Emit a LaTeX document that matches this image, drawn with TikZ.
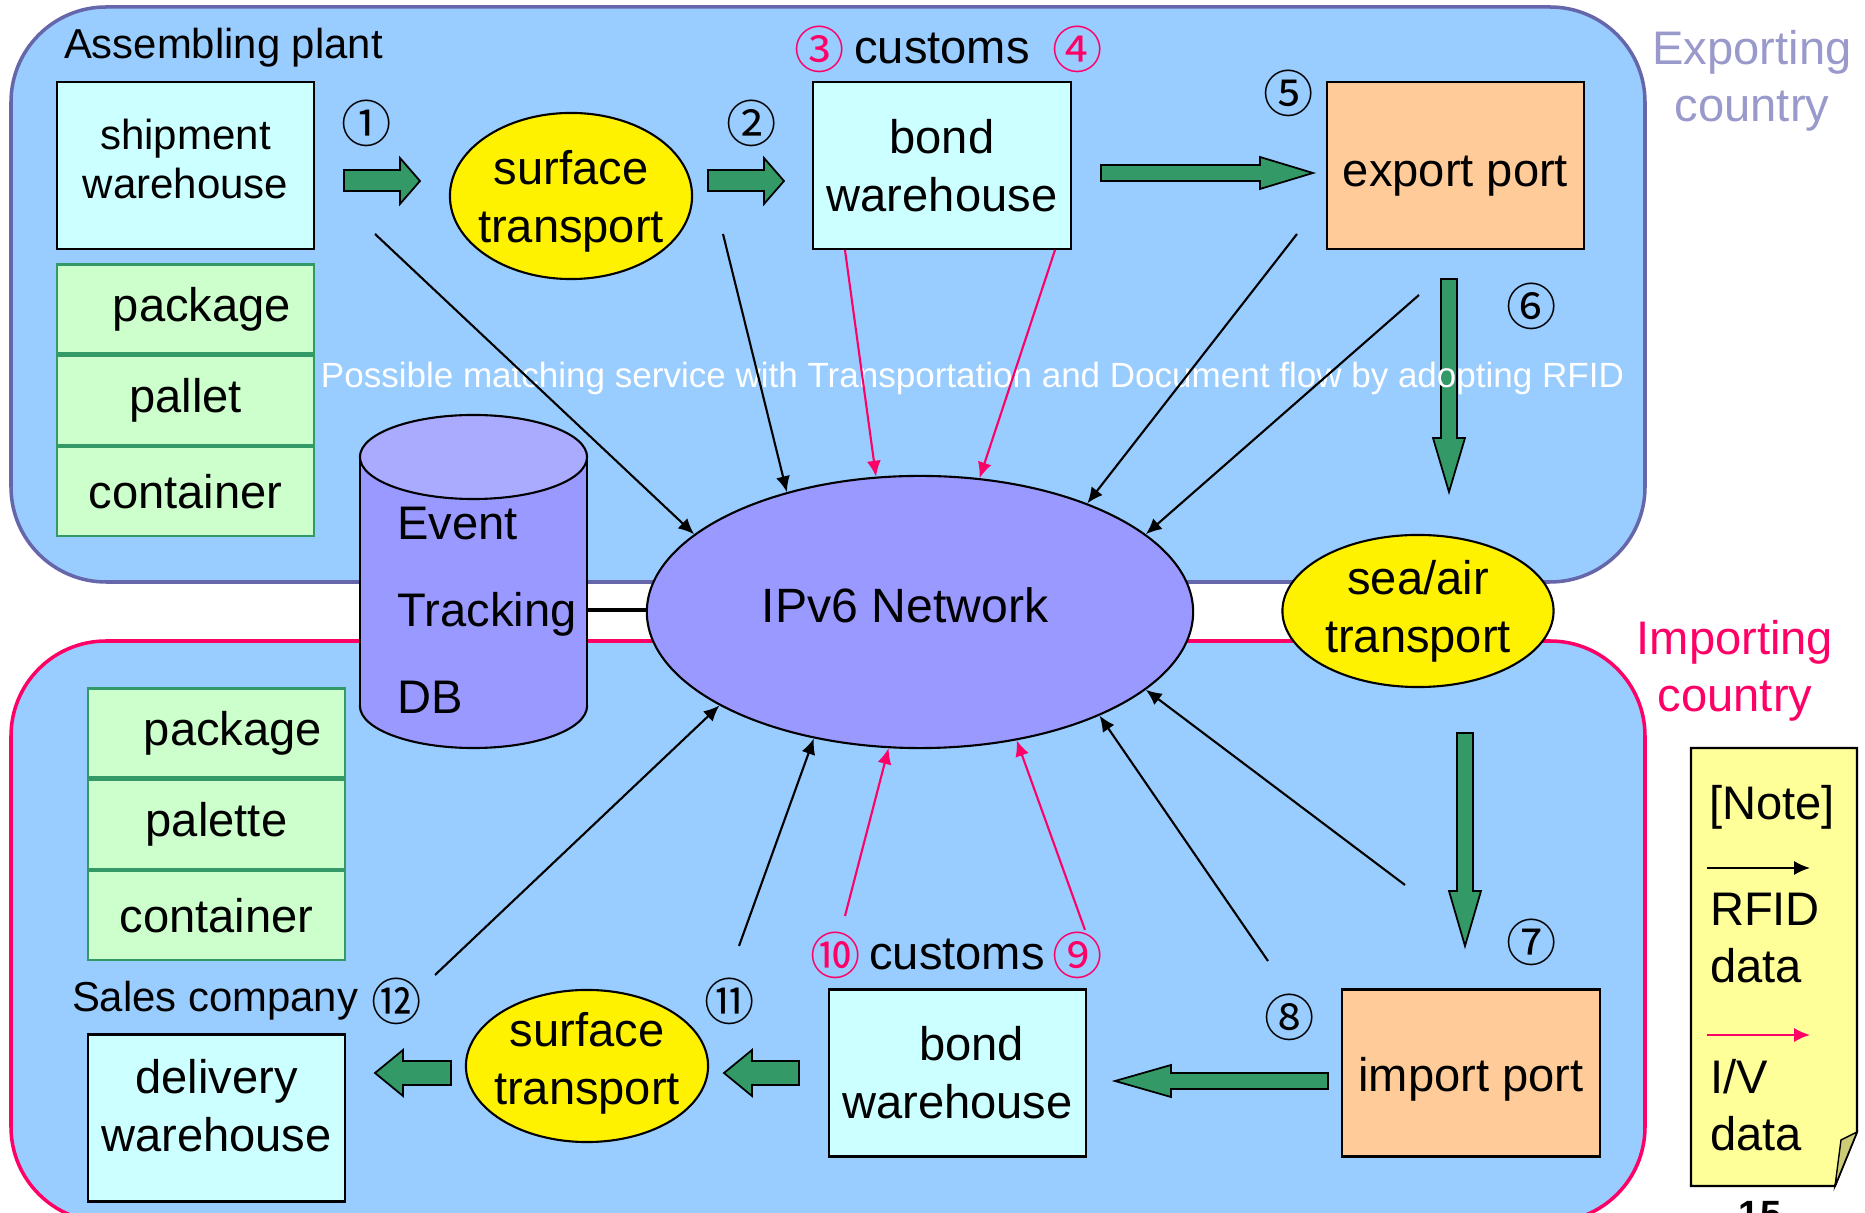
\documentclass[tikz,border=0pt]{standalone}
\usepackage{fontspec}
\setmainfont{Liberation Sans}
\newfontfamily\circfont{Noto Sans CJK JP}
\usetikzlibrary{shapes,arrows.meta,positioning}

\definecolor{panel}{HTML}{99CCFF}
\definecolor{exborder}{HTML}{6666AA}
\definecolor{imred}{HTML}{FF0066}
\definecolor{excountry}{HTML}{9999CC}
\definecolor{boxcyan}{HTML}{CCFFFF}
\definecolor{cellgreen}{HTML}{CCFFCC}
\definecolor{celledge}{HTML}{339966}
\definecolor{flowgreen}{HTML}{339966}
\definecolor{portorange}{HTML}{FFCC99}
\definecolor{netblue}{HTML}{9999FF}
\definecolor{dbtop}{HTML}{AAAAFF}
\definecolor{notefill}{HTML}{FFFF99}
\definecolor{notefold}{HTML}{CCCC77}

\begin{document}
\begin{tikzpicture}[x=0.01cm, y=-0.01cm, line width=0.6pt, >={Latex[length=4.5pt,width=4pt]}]
    \tikzstyle{region} = [line width=1pt, fill=panel, rounded corners=0.95cm]
    \tikzstyle{big} = [inner sep=0, align=center, font=\fontsize{13.4}{16.3}\selectfont]
    \tikzstyle{site} = [inner sep=0, font=\fontsize{11.9}{14}\selectfont]
    \tikzstyle{box} = [rectangle, draw, fill=boxcyan, minimum width=2.57cm, minimum height=1.67cm, inner sep=0, align=center, font=\fontsize{13.4}{16.5}\selectfont]
    \tikzstyle{port} = [box, fill=portorange, text depth=2.8pt]
    \tikzstyle{carrier} = [ellipse, draw, fill=yellow, inner sep=0, align=center, font=\fontsize{13.4}{16.5}\selectfont]
    \tikzstyle{cell} = [rectangle, draw=celledge, fill=cellgreen, minimum width=2.57cm, minimum height=0.89cm, inner sep=0, font=\fontsize{13.4}{16}\selectfont]
    \tikzstyle{num} = [inner sep=0, font=\circfont\fontsize{14.3}{14.3}\selectfont]
    \tikzstyle{flow} = [draw=black, fill=flowgreen, line width=0.5pt]
    \tikzstyle{rfid} = [->, black, line width=0.6pt]
    \tikzstyle{iv} = [->, imred, line width=0.6pt]

    \path[use as bounding box, clip] (0,0) rectangle (1865,1213);
    \fill[white] (0,0) rectangle (1865,1213);

    % country regions
    \draw[region, draw=imred] (11,641) rectangle (1645,1222);
    \draw[region, draw=exborder] (11,7) rectangle (1645,582);
    \node[big, text=excountry] (exlabel) at (1752,81) {Exporting\\country};
    \node[big, text=imred] (imlabel) at (1735,671) {Importing\\country};

    % exporting side
    \node[site, anchor=west] (plant) at (63,48) {Assembling plant};
    \node[box, font=\fontsize{11.95}{13.7}\selectfont, text height=22.4pt, text depth=3.9pt] (ship) at (185.5,165.5) {shipment\\warehouse};
    \node[cell] (pkg1) at (185.5,309) {\hspace*{0.7em}package};
    \node[cell, below=0pt of pkg1] (pal1) {pallet};
    \node[cell, below=0pt of pal1] (con1) {container};
    \node[carrier, inner xsep=-0.12cm, minimum width=2.42cm, minimum height=1.66cm, text height=26.27pt, text depth=0pt] (surf1) at (571,196) {surface\\transport};
    \node[box] (bond1) at (942,165.5) {bond\\warehouse};
    \node[port, text height=14.8pt] (export) at (1455.5,165.5) {export port};
    \node[big] (cus1) at (942,49) {customs};
    \node[num, text=imred] (n3) at (820,49) {③};
    \node[num, text=imred] (n4) at (1078,49) {④};
    \node[num] (n1) at (367,123) {①};
    \node[num] (n2) at (752,123) {②};
    \node[num] (n5) at (1289,93) {⑤};
    \node[num] (n6) at (1532,306) {⑥};

    % importing side
    \node[carrier, minimum width=2.71cm, minimum height=1.52cm] (sea) at (1418,611) {sea/air\\transport};
    \node[port, text height=13.2pt] (import) at (1471,1073) {import port};
    \node[box] (bond2) at (957.5,1073) {\hspace*{0.6em}bond\\warehouse};
    \node[carrier, inner xsep=-0.12cm, minimum width=2.42cm, minimum height=1.52cm, text height=26.27pt, text depth=4.2pt] (surf2) at (587,1066) {surface\\transport};
    \node[box, text height=26.27pt, text depth=7.41pt] (deliv) at (216.5,1118) {delivery\\warehouse};
    \node[cell] (pkg2) at (216.5,733) {\hspace*{0.7em}package};
    \node[cell, below=0pt of pkg2] (pal2) {palette};
    \node[cell, below=0pt of pal2] (con2) {container};
    \node[site, anchor=west] (sales) at (71,1001) {Sales company};
    \node[big] (cus2) at (957,955) {customs};
    \node[num, text=imred] (n10) at (836,955) {⑩};
    \node[num, text=imred] (n9) at (1078,955) {⑨};
    \node[num] (n7) at (1532,942) {⑦};
    \node[num] (n8) at (1290,1017) {⑧};
    \node[num] (n11) at (730,1001) {⑪};
    \node[num] (n12) at (397,1001) {⑫};

    % goods flow
    \filldraw[flow] (344,170) -- (400,170) -- (400,158) -- (420,181) -- (400,204) -- (400,191) -- (344,191) -- cycle;
    \filldraw[flow] (708,170) -- (764,170) -- (764,158) -- (784,181) -- (764,204) -- (764,191) -- (708,191) -- cycle;
    \filldraw[flow] (1101,165) -- (1260,165) -- (1260,157) -- (1313,173) -- (1260,189) -- (1260,181) -- (1101,181) -- cycle;
    \filldraw[flow] (1441,279) -- (1457,279) -- (1457,438) -- (1465,438) -- (1449,492) -- (1433,438) -- (1441,438) -- cycle;
    \filldraw[flow] (1457,733) -- (1473,733) -- (1473,891) -- (1481,891) -- (1465,946) -- (1449,891) -- (1457,891) -- cycle;
    \filldraw[flow] (1328,1073) -- (1171,1073) -- (1171,1065) -- (1115,1081) -- (1171,1097) -- (1171,1089) -- (1328,1089) -- cycle;
    \filldraw[flow] (799,1061) -- (752,1061) -- (752,1050) -- (724,1073) -- (752,1096) -- (752,1085) -- (799,1085) -- cycle;
    \filldraw[flow] (451,1061) -- (403,1061) -- (403,1050) -- (375,1073) -- (403,1096) -- (403,1085) -- (451,1085) -- cycle;

    \node[inner sep=0, text=white, font=\fontsize{9.96}{12}\selectfont] (service) at (972.5,378) {Possible matching service with Transportation and Document flow by adopting RFID};

    % tracking database
    \filldraw[fill=netblue] (473.5,706) ellipse [x radius=1.135cm, y radius=0.42cm];
    \fill[netblue] (360,457) rectangle (587,706);
    \draw (360,457) -- (360,706) (587,457) -- (587,706);
    \filldraw[fill=dbtop] (473.5,457) ellipse [x radius=1.135cm, y radius=0.42cm];
    \node[inner xsep=0.09cm, inner ysep=0, align=left, font=\fontsize{13.4}{24.75}\selectfont] (db) at (487,610) {Event\\Tracking\\DB};

    \node[ellipse, draw, fill=netblue, minimum width=5.46cm, minimum height=2.72cm, inner sep=0, text depth=0.14cm, font=\fontsize{13.7}{16}\selectfont] (net) at (920,612) {IPv6 Network\hspace*{0.3cm}};
    \draw[line width=1.4pt] (db.east) -- (db.east -| net.west);

    % RFID and I/V data
    \coordinate (a1) at (375,234);
    \coordinate (a2) at (723,234);
    \coordinate (a3) at (845,250);
    \coordinate (a4) at (1055,250);
    \coordinate (a5) at (1297,234);
    \coordinate (a6) at (1419,295);
    \coordinate (b1) at (435,975);
    \coordinate (b2) at (739,946);
    \coordinate (b3) at (845,916);
    \coordinate (b4) at (1085,930);
    \coordinate (b5) at (1268,961);
    \coordinate (b6) at (1405,885);
    \draw[rfid] (a1) -- (net.161);
    \draw[rfid] (a2) -- (net.138);
    \draw[iv] (a3) -- (net.108);
    \draw[iv] (a4) -- (net.66);
    \draw[rfid] (a5) -- (net.33);
    \draw[rfid] (a6) -- (net.19);
    \draw[rfid] (b1) -- (net.205);
    \draw[rfid] (b2) -- (net.230);
    \draw[iv] (b3) -- (net.257);
    \draw[iv] (b4) -- (net.307);
    \draw[rfid] (b5) -- (net.330);
    \draw[rfid] (b6) -- (net.341);

    % note
    \filldraw[fill=notefill] (1691,748) -- (1857,748) -- (1857,1132) -- (1835,1186) -- (1691,1186) -- cycle;
    \filldraw[fill=notefold, line width=0.4pt] (1857,1132) -- (1841,1140) -- (1835,1186) -- cycle;
    \node[big, anchor=west] (notehead) at (1708,807) {[Note]};
    \coordinate (keyA) at (1707,868);
    \coordinate (keyB) at (1810,868);
    \draw[rfid] (keyA) -- (keyB);
    \node[big, anchor=west, align=left] (rfidkey) at (1709,938) {RFID\\data};
    \coordinate (keyC) at (1707,1035);
    \coordinate (keyD) at (1810,1035);
    \draw[iv] (keyC) -- (keyD);
    \node[big, anchor=west, align=left] (ivkey) at (1709,1105) {I/V\\data};
    \node[anchor=base, inner sep=0, font=\bfseries\fontsize{10.8}{12}\selectfont] (page) at (1760,1228) {15};
\end{tikzpicture}
\end{document}
